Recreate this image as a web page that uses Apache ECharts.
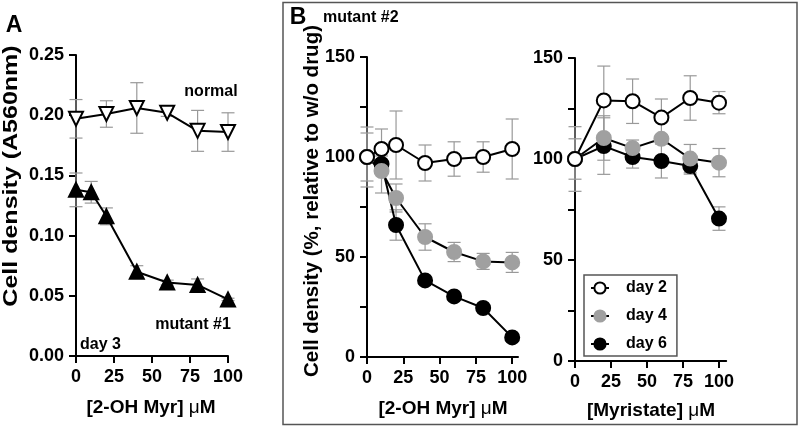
<!DOCTYPE html>
<html>
<head>
<meta charset="utf-8">
<script src="https://cdn.jsdelivr.net/npm/echarts@6/dist/echarts.min.js"></script>
<style>html,body{margin:0;padding:0;background:#fff}#c{width:800px;height:428px}</style>
</head>
<body>
<div id="c"></div>
<script>
// ---------- Data ----------
// Panel A
const xNormal = [0, 20, 40, 60, 80, 100];
const normalVals = [0.197, 0.201, 0.206, 0.202, 0.187, 0.186];
const normalSD = [0.016, 0.011, 0.021, 0.003, 0.017, 0.016];
const xMutant1 = [0, 10, 20, 40, 60, 80, 100];
const mutant1Vals = [0.138, 0.136, 0.116, 0.070, 0.061, 0.059, 0.047];
const mutant1SD = [0.014, 0.009, 0.007, 0.005, 0.002, 0.005, 0.001];
const yTicksA = [0, 0.05, 0.10, 0.15, 0.20, 0.25];
// Panel B left (2-OH Myr)
const xB1 = [0, 10, 20, 40, 60, 80, 100];
const day2B1 = [100, 104, 106, 97, 99, 100, 104];
const day2B1SD = [15, 10, 17, 9, 8.6, 7.6, 15];
const day4B1 = [100, 93, 79.5, 60, 52.5, 47.8, 47.3];
const day4B1SD = [12, 11, 7, 6.6, 4.8, 4, 5];
const day6B1 = [100, 96.5, 66, 38.3, 30.3, 24.5, 9.8];
const day6B1SD = [0, 4, 7.6, 1, 1, 1, 1];
// Panel B right (Myristate)
const xB2 = [0, 20, 40, 60, 80, 100];
const day2B2 = [100, 129, 128.6, 120.5, 130.2, 127.9];
const day2B2SD = [16, 17, 11, 9.2, 11, 5.5];
const day4B2 = [100, 110.4, 105.4, 110, 100.2, 98.2];
const day4B2SD = [10, 11, 4, 2, 7, 7];
const day6B2 = [100, 106.4, 101, 99, 96.5, 70.5];
const day6B2SD = [0, 14, 5.5, 8.4, 4, 5.8];
const xTicks = [0, 25, 50, 75, 100];
const yTicksB = [0, 25, 50, 75, 100, 125, 150];
const yLabelsB = [0, 50, 100, 150];

// ---------- Helpers ----------
const FONT = '"Liberation Sans", Arial, sans-serif';
const pts = (xs, vs) => xs.map((x, i) => [x, vs[i]]);
const errs = (xs, vs, sd) => xs.map((x, i) => [x, vs[i] - sd[i], vs[i] + sd[i]]);

function errItem(params, api) {
  const x = api.value(0), lo = api.value(1), hi = api.value(2);
  const p1 = api.coord([x, hi]), p2 = api.coord([x, lo]);
  const w = 6.5;
  const st = { stroke: '#999', lineWidth: 1.2 };
  return {
    type: 'group', children: [
      { type: 'line', shape: { x1: p1[0], y1: p1[1], x2: p2[0], y2: p2[1] }, style: st },
      { type: 'line', shape: { x1: p1[0] - w, y1: p1[1], x2: p1[0] + w, y2: p1[1] }, style: st },
      { type: 'line', shape: { x1: p2[0] - w, y1: p2[1], x2: p2[0] + w, y2: p2[1] }, style: st }
    ]
  };
}
function errSeries(idx, data) {
  return { type: 'custom', xAxisIndex: idx, yAxisIndex: idx, renderItem: errItem,
    encode: { x: 0, y: [1, 2] }, data: data, z: 1, silent: true };
}
const axisLine = { show: true, onZero: false, lineStyle: { color: '#000', width: 2 } };
const axisTickBase = { show: true, length: 7, lineStyle: { color: '#000', width: 2 } };
const labelBase = { color: '#000', fontSize: 18, fontWeight: 'bold', fontFamily: FONT };

function xAx(idx, max) {
  return { type: 'value', gridIndex: idx, min: 0, max: max, interval: 25,
    axisLine: axisLine, splitLine: { show: false },
    axisTick: Object.assign({}, axisTickBase, { customValues: xTicks }),
    axisLabel: Object.assign({}, labelBase, { margin: 12, customValues: xTicks }) };
}
function yAxB(idx) {
  return { type: 'value', gridIndex: idx, min: 0, max: 150, interval: 25,
    axisLine: axisLine, splitLine: { show: false },
    axisTick: Object.assign({}, axisTickBase, { customValues: yTicksB }),
    axisLabel: Object.assign({}, labelBase, { margin: 12, customValues: yLabelsB }) };
}
function lineSeries(name, idx, data, fill, size, symbol, rot, border) {
  return { type: 'line', name: name, xAxisIndex: idx, yAxisIndex: idx, data: data,
    symbol: symbol || 'circle', symbolSize: size, symbolRotate: rot || 0, showAllSymbol: true,
    lineStyle: { color: '#000', width: 2 },
    itemStyle: { color: fill, borderColor: border || '#000', borderWidth: 2 },
    emphasis: { disabled: true }, z: 2, animation: false };
}

const option = {
  backgroundColor: '#fff',
  animation: false,
  grid: [
    { left: 76, top: 55, width: 152, height: 301 },
    { left: 367, top: 57, width: 151, height: 300 },
    { left: 575, top: 58, width: 151.2, height: 303 }
  ],
  xAxis: [ xAx(0, 100), xAx(1, 104), xAx(2, 105) ],
  yAxis: [
    { type: 'value', gridIndex: 0, min: 0, max: 0.25, interval: 0.05,
      axisLine: axisLine, splitLine: { show: false },
      axisTick: Object.assign({}, axisTickBase, { customValues: yTicksA }),
      axisLabel: Object.assign({}, labelBase, { margin: 12, customValues: yTicksA,
        formatter: v => v.toFixed(2) }) },
    yAxB(1), yAxB(2)
  ],
  legend: {
    data: ['day 2', 'day 4', 'day 6'], orient: 'vertical', left: 584, top: 275,
    padding: [5, 10, 4, 6], itemGap: 12, itemWidth: 18, itemHeight: 14,
    borderColor: '#555', borderWidth: 1.5, selectedMode: false,
    textStyle: { fontSize: 16, fontWeight: 'bold', fontFamily: FONT, color: '#000', padding: [0, 0, 0, 12] }
  },
  series: [
    errSeries(0, errs(xNormal, normalVals, normalSD)),
    errSeries(0, errs(xMutant1, mutant1Vals, mutant1SD)),
    lineSeries('normal', 0, pts(xNormal, normalVals), '#fff', 14, 'triangle', 180),
    lineSeries('mutant #1', 0, pts(xMutant1, mutant1Vals), '#000', 14, 'triangle', 0),

    errSeries(1, errs(xB1, day6B1, day6B1SD)),
    errSeries(1, errs(xB1, day4B1, day4B1SD)),
    errSeries(1, errs(xB1, day2B1, day2B1SD)),
    lineSeries('day 6', 1, pts(xB1, day6B1), '#000', 14),
    lineSeries('day 4', 1, pts(xB1, day4B1), '#a0a0a0', 14, 'circle', 0, '#a0a0a0'),
    lineSeries('day 2', 1, pts(xB1, day2B1), '#fff', 14),

    errSeries(2, errs(xB2, day6B2, day6B2SD)),
    errSeries(2, errs(xB2, day4B2, day4B2SD)),
    errSeries(2, errs(xB2, day2B2, day2B2SD)),
    lineSeries('day 6', 2, pts(xB2, day6B2), '#000', 14),
    lineSeries('day 4', 2, pts(xB2, day4B2), '#a0a0a0', 14, 'circle', 0, '#a0a0a0'),
    lineSeries('day 2', 2, pts(xB2, day2B2), '#fff', 14)
  ],
  graphic: [
    { type: 'rect', shape: { x: 283, y: 2.5, width: 514, height: 422 },
      style: { fill: 'none', stroke: '#555', lineWidth: 1.5 }, z: 0 },
    { type: 'text', x: 14, y: 26, style: { text: 'A', font: 'bold 23px ' + FONT, fill: '#000', textAlign: 'center', textVerticalAlign: 'middle' } },
    { type: 'text', x: 298, y: 18, style: { text: 'B', font: 'bold 23px ' + FONT, fill: '#000', textAlign: 'center', textVerticalAlign: 'middle' } },
    { type: 'text', x: 323, y: 18, style: { text: 'mutant #2', font: 'bold 16px ' + FONT, fill: '#000', textAlign: 'left', textVerticalAlign: 'middle' } },
    { type: 'text', x: 211, y: 92, style: { text: 'normal', font: 'bold 16px ' + FONT, fill: '#000', textAlign: 'center', textVerticalAlign: 'middle' } },
    { type: 'text', x: 193, y: 325, style: { text: 'mutant #1', font: 'bold 16px ' + FONT, fill: '#000', textAlign: 'center', textVerticalAlign: 'middle' } },
    { type: 'text', x: 80, y: 345, style: { text: 'day 3', font: 'bold 16px ' + FONT, fill: '#000', textAlign: 'left', textVerticalAlign: 'middle' } },
    { type: 'text', x: 11, y: 176, rotation: Math.PI / 2, scaleX: 1.22,
      style: { text: 'Cell density (A560nm)', font: 'bold 20.5px ' + FONT, fill: '#000', textAlign: 'center', textVerticalAlign: 'middle' } },
    { type: 'text', x: 312, y: 201, rotation: Math.PI / 2,
      style: { text: 'Cell density (%, relative to w/o drug)', font: 'bold 20.5px ' + FONT, fill: '#000', textAlign: 'center', textVerticalAlign: 'middle' } },
    { type: 'text', x: 151, y: 408, style: { text: '{a|[2-OH Myr] }{b|μ}{a|M}', textAlign: 'center', textVerticalAlign: 'middle',
      rich: { a: { font: 'bold 19px ' + FONT, fill: '#000' }, b: { font: '19px ' + FONT, fill: '#000' } } } },
    { type: 'text', x: 443, y: 409, style: { text: '{a|[2-OH Myr] }{b|μ}{a|M}', textAlign: 'center', textVerticalAlign: 'middle',
      rich: { a: { font: 'bold 19px ' + FONT, fill: '#000' }, b: { font: '19px ' + FONT, fill: '#000' } } } },
    { type: 'text', x: 651, y: 411, style: { text: '{a|[Myristate] }{b|μ}{a|M}', textAlign: 'center', textVerticalAlign: 'middle',
      rich: { a: { font: 'bold 19px ' + FONT, fill: '#000' }, b: { font: '19px ' + FONT, fill: '#000' } } } }
  ]
};
const chart = echarts.init(document.getElementById('c'), null, { renderer: 'canvas' });
chart.setOption(option);
</script>
</body>
</html>
